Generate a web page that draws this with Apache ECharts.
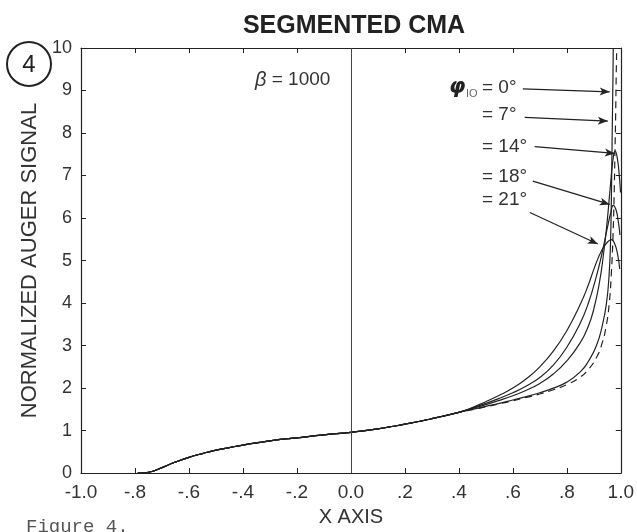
<!DOCTYPE html>
<html>
<head>
<meta charset="utf-8">
<script src="https://cdn.jsdelivr.net/npm/echarts@6/dist/echarts.min.js"></script>
<style>
  html, body { margin: 0; padding: 0; background: #fff; }
  #chart { width: 637px; height: 532px; }
</style>
</head>
<body>
<div id="chart"></div>
<script>
// x positions / normalized signal
const sharedPath = [
  [-0.79, 0], [-0.75, 0.02], [-0.7, 0.13], [-0.65, 0.26], [-0.6, 0.37], [-0.55, 0.46],
  [-0.5, 0.54], [-0.45, 0.6], [-0.4, 0.66], [-0.3, 0.76], [-0.2, 0.83], [-0.1, 0.9],
  [0, 0.96], [0.1, 1.04], [0.2, 1.15], [0.3, 1.28], [0.4, 1.43]
]
const phi0 = [
  [0.45, 1.49], [0.5, 1.56], [0.55, 1.63], [0.6, 1.7], [0.65, 1.78], [0.7, 1.86],
  [0.75, 1.96], [0.8, 2.08], [0.85, 2.26], [0.88, 2.44], [0.91, 2.72], [0.93, 3.04],
  [0.945, 3.43], [0.957, 3.98], [0.965, 4.7], [0.971, 5.55], [0.975, 6.45], [0.978, 7.4],
  [0.981, 8.45], [0.983, 9.35], [0.985, 10]
]
const phi7 = [
  [0.45, 1.5], [0.5, 1.57], [0.55, 1.64], [0.6, 1.72], [0.65, 1.8], [0.7, 1.89],
  [0.75, 2.0], [0.8, 2.14], [0.85, 2.38], [0.88, 2.63], [0.91, 3.0], [0.93, 3.43],
  [0.947, 4.0], [0.957, 4.7], [0.962, 5.45], [0.965, 6.4], [0.967, 7.4], [0.969, 8.4],
  [0.971, 9.3], [0.972, 10]
]
const phi14 = [
  [0.45, 1.52], [0.5, 1.61], [0.55, 1.71], [0.6, 1.82], [0.65, 1.95], [0.7, 2.11],
  [0.75, 2.33], [0.8, 2.64], [0.85, 3.07], [0.88, 3.46], [0.9, 3.86], [0.92, 4.45],
  [0.935, 5.1], [0.95, 5.95], [0.962, 6.8], [0.972, 7.42], [0.979, 7.58], [0.986, 7.45],
  [0.993, 7.1], [0.999, 6.6]
]
const phi18 = [
  [0.45, 1.53], [0.5, 1.64], [0.55, 1.76], [0.6, 1.89], [0.65, 2.05], [0.7, 2.25],
  [0.75, 2.54], [0.8, 2.96], [0.85, 3.53], [0.88, 4.0], [0.91, 4.64], [0.93, 5.16],
  [0.95, 5.76], [0.963, 6.13], [0.972, 6.3], [0.982, 6.2], [0.99, 5.95], [0.997, 5.6]
]
const phi21 = [
  [0.43, 1.49], [0.5, 1.68], [0.55, 1.83], [0.6, 2.0], [0.65, 2.22], [0.7, 2.5],
  [0.75, 2.87], [0.8, 3.35], [0.85, 3.97], [0.88, 4.43], [0.905, 4.88], [0.93, 5.25],
  [0.95, 5.43], [0.965, 5.49], [0.977, 5.4], [0.988, 5.15], [0.996, 4.8]
]

const angleLabels = ["0°", "7°", "14°", "18°", "21°"]
const angleTails = [phi0, phi7, phi14, phi18, phi21]
// where each label's arrow starts and lands on its curve
const arrowFrom = [[0.637, 9.04], [0.644, 8.37], [0.681, 7.68], [0.674, 6.87], [0.663, 6.13]]
const arrowTo = [[0.959, 8.97], [0.952, 8.28], [0.978, 7.52], [0.959, 6.32], [0.915, 5.39]]

const xTickLabels = ["-1.0", "-.8", "-.6", "-.4", "-.2", "0.0", ".2", ".4", ".6", ".8", "1.0"]
const yTickLabels = ["0", "1", "2", "3", "4", "5", "6", "7", "8", "9", "10"]

const FONT = "Liberation Sans"
const INK = "#222"
const TEXT = "#333"

const chart = echarts.init(document.getElementById("chart"), null, {renderer: "canvas"})

const series = angleTails.map((tail, i) => ({
  type: "line",
  name: angleLabels[i],
  data: sharedPath.concat(tail),
  showSymbol: false,
  smooth: 0.5,
  silent: true,
  z: 3,
  lineStyle: {
    color: INK,
    width: 1.2,
    type: i === 0 ? [7, 5] : "solid",
  },
}))

// label arrows
series[0].markLine = {
  silent: true,
  symbol: ["none", "arrow"],
  symbolSize: [6, 10],
  label: {show: false},
  animation: false,
  lineStyle: {color: INK, width: 1.2, type: "solid"},
  data: arrowFrom.map((p, i) => [{coord: p}, {coord: arrowTo[i]}]),
}
// thin line at x = 0
series[1].markLine = {
  silent: true,
  symbol: "none",
  label: {show: false},
  animation: false,
  lineStyle: {color: "#444", width: 1, type: "solid"},
  data: [{xAxis: 0}],
}

const axisBase = {
  type: "value",
  axisLine: {show: true, onZero: false, lineStyle: {color: INK, width: 1.2}},
  axisTick: {show: true, inside: true, length: 5, lineStyle: {color: INK, width: 1}},
  splitLine: {show: false},
}

chart.setOption({
  animation: false,
  backgroundColor: "#fff",
  title: {
    text: "SEGMENTED CMA",
    left: 349,
    top: 9,
    textAlign: "center",
    textStyle: {fontFamily: FONT, fontWeight: "bold", fontSize: 25, color: INK},
  },
  grid: {left: 81, right: 16, top: 48, bottom: 52},
  xAxis: [
    {
      ...axisBase,
      min: -1, max: 1, interval: 0.2,
      position: "bottom",
      name: "X AXIS",
      nameLocation: "middle",
      nameGap: 33,
      nameTextStyle: {fontFamily: FONT, fontSize: 20, color: TEXT},
      axisLabel: {
        margin: 10, fontFamily: FONT, fontSize: 19, color: TEXT,
        formatter: v => xTickLabels[Math.round((v + 1) / 0.2)],
      },
    },
    {...axisBase, min: -1, max: 1, interval: 0.2, position: "top", axisLabel: {show: false}},
  ],
  yAxis: [
    {
      ...axisBase,
      min: 0, max: 10, interval: 1,
      position: "left",
      name: "NORMALIZED AUGER SIGNAL",
      nameLocation: "middle",
      nameGap: 40,
      nameTextStyle: {fontFamily: FONT, fontSize: 22, color: TEXT},
      axisLabel: {
        margin: 9, fontFamily: FONT, fontSize: 18, color: TEXT,
        formatter: v => yTickLabels[Math.round(v)],
      },
    },
    {...axisBase, min: 0, max: 10, interval: 1, position: "right", axisLabel: {show: false}},
  ],
  series,
  graphic: [
    {type: "circle", shape: {cx: 29, cy: 64, r: 22}, style: {fill: "none", stroke: INK, lineWidth: 2}},
    {type: "text", x: 29, y: 65, style: {text: "4", font: `24px "${FONT}"`, fill: INK, align: "center", verticalAlign: "middle"}},
    {
      type: "text", x: 255, y: 80,
      style: {
        text: "{b|β} = 1000",
        font: `19px "${FONT}"`, fill: TEXT, verticalAlign: "middle",
        rich: {b: {fontStyle: "italic", fontFamily: FONT, fontSize: 20, fill: TEXT}},
      },
    },
    {type: "text", x: 449, y: 88, style: {text: "φ", font: `italic bold 21px "DejaVu Sans"`, fill: INK, verticalAlign: "middle"}},
    {type: "text", x: 466, y: 94, style: {text: "IO", font: `11px "${FONT}"`, fill: "#666", verticalAlign: "middle"}},
    ...angleLabels.map((lab, i) => ({
      type: "text",
      x: 482,
      y: [88, 115, 147, 177, 200][i],
      style: {text: "= " + lab, font: `19px "${FONT}"`, fill: TEXT, verticalAlign: "middle"},
    })),
    {type: "text", x: 26, y: 527, style: {text: "Figure 4.", font: `19px "Liberation Mono"`, fill: "#555", verticalAlign: "middle"}},
  ],
})
</script>
</body>
</html>
